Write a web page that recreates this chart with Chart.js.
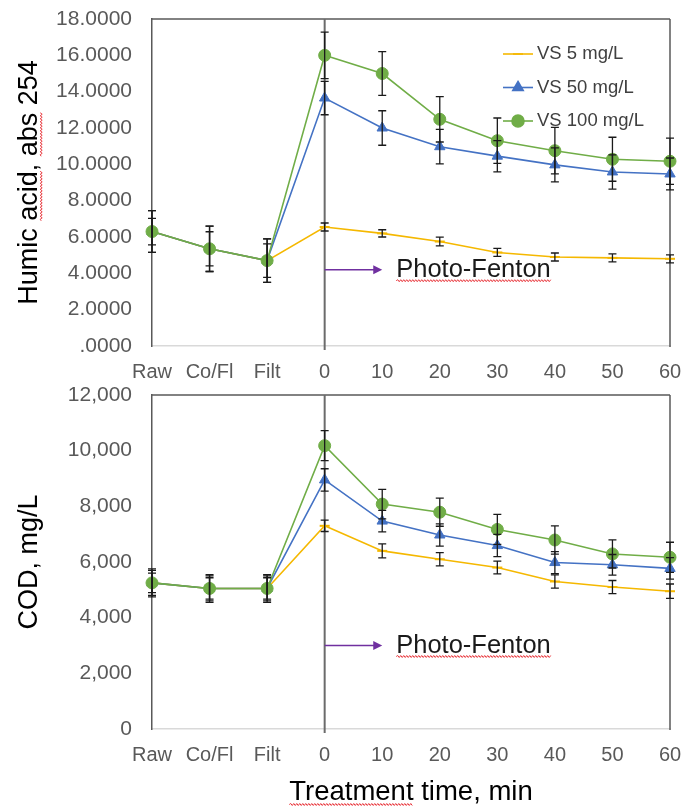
<!DOCTYPE html>
<html>
<head>
<meta charset="utf-8">
<title>Humic acid and COD</title>
<script src="https://cdn.jsdelivr.net/npm/chart.js@4.4.1/dist/chart.umd.min.js"></script>
<style>
  body { margin: 0; background: #fff; }
  #wrap { position: relative; width: 683px; height: 807px; }
  canvas { position: absolute; left: 0; }
  #top { top: 0; }
  #bottom { top: 380px; }
</style>
</head>
<body>
<div id="wrap">
  <canvas id="top" width="683" height="380"></canvas>
  <canvas id="bottom" width="683" height="427"></canvas>
</div>
<script>
var labels = ['Raw', 'Co/Fl', 'Filt', '0', '10', '20', '30', '40', '50', '60'];
var seriesNames = ['VS 5 mg/L', 'VS 50 mg/L', 'VS 100 mg/L'];

// humic acid, abs 254
var humicVs5 = [6.3, 5.35, 4.7, 6.55, 6.2, 5.75, 5.15, 4.9, 4.85, 4.8];
var humicVs50 = [6.3, 5.35, 4.7, 13.65, 12.0, 10.97, 10.45, 9.97, 9.58, 9.47];
var humicVs100 = [6.3, 5.35, 4.7, 16.0, 15.0, 12.48, 11.3, 10.75, 10.28, 10.17];
var humicErr5 = [1.15, 1.25, 1.2, 0.22, 0.2, 0.24, 0.22, 0.22, 0.22, 0.22];
var humicErr50 = [0.73, 0.94, 0.92, 0.92, 0.95, 0.95, 0.86, 0.94, 0.94, 0.88];
var humicErr100 = [1.15, 1.25, 1.2, 1.28, 1.2, 1.25, 1.25, 1.28, 1.21, 1.27];

// COD, mg/L
var codVs5 = [5250, 5050, 5050, 7300, 6400, 6100, 5800, 5300, 5100, 4950];
var codVs50 = [5250, 5050, 5050, 8950, 7470, 6970, 6590, 5980, 5900, 5770];
var codVs100 = [5250, 5050, 5050, 10180, 8080, 7790, 7170, 6790, 6290, 6170];
var codErr5 = [500, 500, 500, 205, 250, 240, 230, 240, 235, 260];
var codErr50 = [350, 385, 385, 400, 385, 400, 400, 395, 370, 385];
var codErr100 = [450, 450, 450, 540, 530, 505, 540, 505, 505, 540];

var FONT = "'Liberation Sans', Arial, sans-serif";
Chart.defaults.font.family = FONT;
Chart.defaults.color = '#595959';

var colors = ['#F5B800', '#4472C4', '#70AD47'];
var styles = ['line', 'triangle', 'circle'];

function wavy(ctx, x1, x2, y) {
  ctx.save();
  ctx.strokeStyle = '#e8353b';
  ctx.lineWidth = 1;
  ctx.beginPath();
  ctx.moveTo(x1, y);
  var up = true;
  for (var x = x1 + 1.5; x <= x2; x += 1.5) {
    ctx.lineTo(x, up ? y - 1 : y + 1);
    up = !up;
  }
  ctx.stroke();
  ctx.restore();
}

function buildDatasets(values, errors) {
  return values.map(function(v, i) {
    return {
      label: seriesNames[i],
      data: v,
      errors: errors[i],
      borderColor: colors[i],
      backgroundColor: colors[i],
      borderWidth: 1.6,
      pointStyle: styles[i],
      pointRadius: i === 0 ? 5 : 6,
      pointBorderWidth: i === 0 ? 2 : 1,
      order: 2 - i,
      tension: 0
    };
  });
}

// error bars, vertical marker line at t=0, plot frame, arrow + note
var extras = {
  id: 'extras',
  beforeDatasetsDraw: function(chart) {
    var ctx = chart.ctx, a = chart.chartArea, xs = chart.scales.x;
    var x0 = xs.getPixelForValue(3);
    ctx.save();
    ctx.strokeStyle = '#595959';
    ctx.lineWidth = 1.5;
    ctx.beginPath();
    ctx.moveTo(a.left, a.top);
    ctx.lineTo(a.right, a.top);
    ctx.moveTo(a.right, a.top);
    ctx.lineTo(a.right, a.bottom + 1);
    ctx.stroke();
    ctx.strokeStyle = '#6b6b6b';
    ctx.lineWidth = 2;
    ctx.beginPath();
    ctx.moveTo(x0, a.top);
    ctx.lineTo(x0, a.bottom + 4);
    ctx.stroke();
    ctx.restore();
  },
  afterDatasetsDraw: function(chart) {
    var ctx = chart.ctx, ys = chart.scales.y;
    ctx.save();
    ctx.strokeStyle = '#1a1a1a';
    ctx.lineWidth = 1.3;
    chart.data.datasets.forEach(function(ds, i) {
      chart.getDatasetMeta(i).data.forEach(function(pt, j) {
        var v = ds.data[j], e = ds.errors[j];
        var t = ys.getPixelForValue(v + e), b = ys.getPixelForValue(v - e);
        ctx.beginPath();
        ctx.moveTo(pt.x, t); ctx.lineTo(pt.x, b);
        ctx.moveTo(pt.x - 4, t); ctx.lineTo(pt.x + 4, t);
        ctx.moveTo(pt.x - 4, b); ctx.lineTo(pt.x + 4, b);
        ctx.stroke();
      });
    });
    ctx.restore();
  },
  afterDraw: function(chart, args, opts) {
    var ctx = chart.ctx, a = chart.chartArea, xs = chart.scales.x, ys = chart.scales.y;
    // arrow
    var x1 = xs.getPixelForValue(3), x2 = xs.getPixelForValue(4), y = ys.getPixelForValue(opts.arrowAt);
    ctx.save();
    ctx.strokeStyle = '#7030A0';
    ctx.fillStyle = '#7030A0';
    ctx.lineWidth = 1.5;
    ctx.beginPath();
    ctx.moveTo(x1, y); ctx.lineTo(x2 - 6, y);
    ctx.stroke();
    ctx.beginPath();
    ctx.moveTo(x2, y); ctx.lineTo(x2 - 9, y - 4.5); ctx.lineTo(x2 - 9, y + 4.5);
    ctx.closePath();
    ctx.fill();
    ctx.font = '25.5px ' + FONT;
    ctx.fillStyle = '#1a1a1a';
    ctx.textBaseline = 'middle';
    ctx.textAlign = 'left';
    var note = 'Photo-Fenton';
    var tx = x2 + 14;
    ctx.fillText(note, tx, y);
    wavy(ctx, tx, tx + ctx.measureText(note).width, y + 11);

    // spell-check underlines on axis titles
    var yt = ys.options.title;
    var fs = yt.font.size;
    var tX = ys.left + fs * 1.2 / 2 + yt.padding.top;
    var tY = (a.top + a.bottom) / 2;
    ctx.font = fs + 'px ' + FONT;
    var full = yt.text, w = ctx.measureText(full).width;
    (opts.yWords || []).forEach(function(pair) {
      var s = -w / 2 + ctx.measureText(full.slice(0, pair[0])).width;
      var e = -w / 2 + ctx.measureText(full.slice(0, pair[1])).width;
      ctx.save();
      ctx.translate(tX, tY);
      ctx.rotate(-Math.PI / 2);
      wavy(ctx, s, e, 12);
      ctx.restore();
    });
    if (xs.options.title.display) {
      var xt = xs.options.title;
      var xf = xt.font.size;
      ctx.font = xf + 'px ' + FONT;
      var xw = ctx.measureText(xt.text).width;
      var cx = (a.left + a.right) / 2;
      var cy = xs.bottom - xf * 1.2 / 2 - xt.padding.bottom;
      wavy(ctx, cx - xw / 2, cx - xw / 2 + ctx.measureText('Treatment').width, cy + 12);
    }

    // legend inside the plot
    if (opts.legend) {
      ctx.font = '18.5px ' + FONT;
      ctx.textBaseline = 'middle';
      chart.data.datasets.forEach(function(ds, i) {
        var ly = a.top + 35 + i * 33.5;
        var lx = a.right - 167;
        ctx.strokeStyle = ds.borderColor;
        ctx.lineWidth = 1.6;
        ctx.beginPath();
        ctx.moveTo(lx, ly); ctx.lineTo(lx + 30, ly);
        ctx.stroke();
        ctx.fillStyle = ds.backgroundColor;
        Chart.helpers.drawPoint(ctx, {
          pointStyle: ds.pointStyle, radius: ds.pointRadius, borderWidth: ds.pointBorderWidth, rotation: 0
        }, lx + 15, ly);
        ctx.fillStyle = '#404040';
        ctx.fillText(ds.label, lx + 34, ly);
      });
    }
    ctx.restore();
  }
};

function makeChart(id, datasets, yOpts, extra) {
  return new Chart(document.getElementById(id), {
    type: 'line',
    data: { labels: labels, datasets: datasets },
    plugins: [extras],
    options: {
      responsive: false,
      animation: false,
      layout: { padding: { top: extra.padTop, right: 13, left: 0, bottom: 0 } },
      plugins: {
        legend: { display: false },
        tooltip: { enabled: false },
        extras: extra
      },
      scales: {
        x: {
          type: 'category',
          offset: false,
          grid: { display: false, drawTicks: false, tickLength: 0 },
          border: { display: true, color: '#d9d9d9', width: 1.5 },
          ticks: { font: { size: 20 }, padding: 14, maxRotation: 0, autoSkip: false },
          title: {
            display: !!extra.xTitle,
            text: extra.xTitle || '',
            color: '#000',
            font: { size: 27.5 },
            padding: { top: 0, bottom: -2 }
          },
          afterFit: function(s) {
            s.height = extra.xHeight;
            s.paddingLeft = 0;
            s.paddingRight = 0;
          }
        },
        y: {
          min: yOpts.min,
          max: yOpts.max,
          grid: { display: false, drawTicks: false, tickLength: 0 },
          border: { display: true, color: '#595959', width: 1.5 },
          ticks: { stepSize: yOpts.step, font: { size: 21 }, padding: 20, callback: yOpts.fmt },
          title: {
            display: true,
            text: yOpts.title,
            color: '#000',
            font: { size: 27 },
            padding: { top: 13, bottom: 0 }
          },
          afterFit: function(s) {
            s.width = 152;
            s.paddingTop = 0;
            s.paddingBottom = 0;
          }
        }
      }
    }
  });
}

makeChart('top',
  buildDatasets([humicVs5, humicVs50, humicVs100], [humicErr5, humicErr50, humicErr100]),
  { min: 0, max: 18, step: 2, title: 'Humic acid, abs 254',
    fmt: function(v) { return v === 0 ? '.0000' : v.toFixed(4); } },
  { padTop: 19, xHeight: 34, arrowAt: 4.2, legend: true, yWords: [[6, 10], [12, 15]] }
);

makeChart('bottom',
  buildDatasets([codVs5, codVs50, codVs100], [codErr5, codErr50, codErr100]),
  { min: 0, max: 12000, step: 2000, title: 'COD, mg/L',
    fmt: function(v) { return v.toLocaleString('en-US'); } },
  { padTop: 15, xHeight: 78, arrowAt: 3000, legend: false, xTitle: 'Treatment time, min' }
);
</script>
</body>
</html>
